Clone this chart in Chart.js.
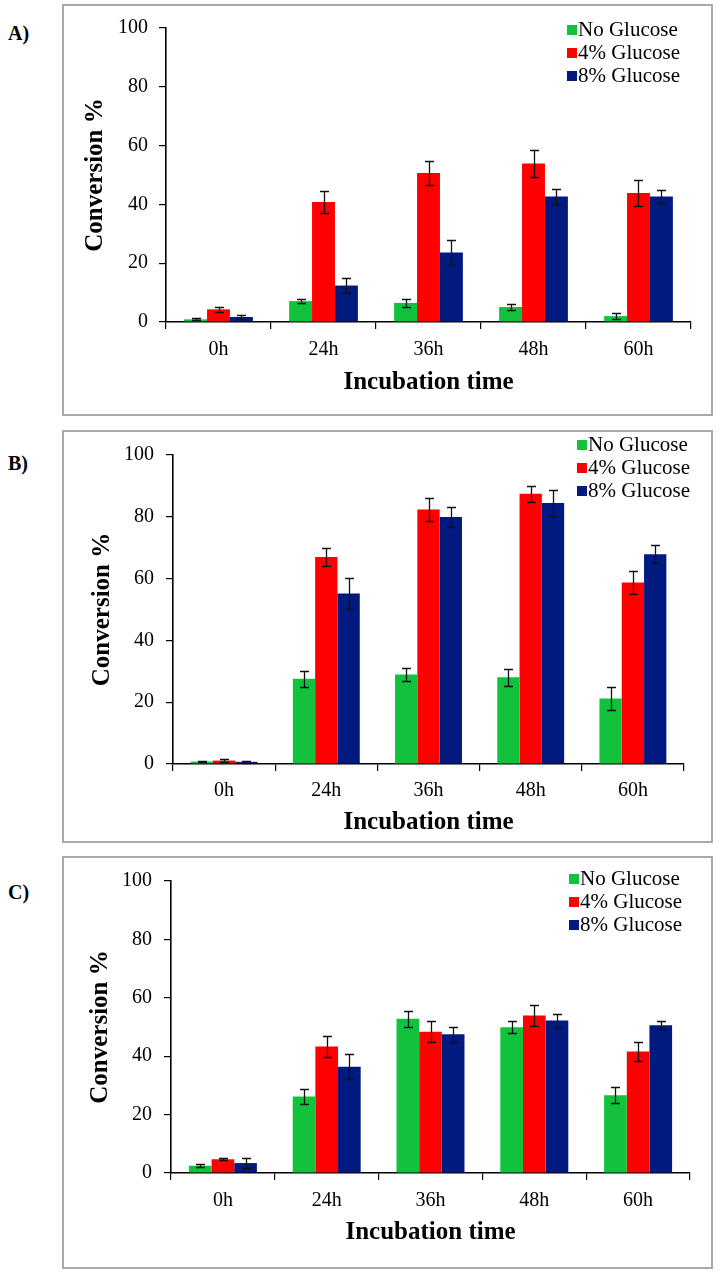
<!DOCTYPE html>
<html>
<head>
<meta charset="utf-8">
<script src="https://cdn.jsdelivr.net/npm/chart.js@4.4.0/dist/chart.umd.min.js"></script>
<style>
  body { margin: 0; background: #fff; width: 720px; height: 1275px; position: relative; overflow: hidden; font-family: "Liberation Serif", "Times New Roman", serif; }
  .frame { position: absolute; left: 62px; width: 651px; border: 2px solid #a9a9a9; box-sizing: border-box; }
  canvas { position: absolute; left: 0; }
  .tag { position: absolute; left: 8px; font-weight: bold; font-size: 20px; line-height: 20px; }
  .legend { position: absolute; font-size: 21px; line-height: 23px; color: #000; }
  .legend div { white-space: nowrap; }
  .legend span { display: inline-block; width: 10px; height: 10px; margin-right: 1px; vertical-align: 1px; }
</style>
</head>
<body>
<div class="frame" style="top:4px;height:412px"></div>
<div class="frame" style="top:430px;height:413px"></div>
<div class="frame" style="top:856px;height:413px"></div>
<div class="tag" style="top:23px">A)</div>
<div class="tag" style="top:453px">B)</div>
<div class="tag" style="top:882px">C)</div>
<canvas id="chartA" width="720" height="410" style="top:5px"></canvas>
<canvas id="chartB" width="720" height="411" style="top:431px"></canvas>
<canvas id="chartC" width="720" height="411" style="top:857px"></canvas>
<div class="legend" id="legendA" style="left:567px;top:18px"></div>
<div class="legend" id="legendB" style="left:577px;top:433px"></div>
<div class="legend" id="legendC" style="left:569px;top:867px"></div>

<script>
const timeLabels = ['0h', '24h', '36h', '48h', '60h'];
const seriesNames = ['No Glucose', '4% Glucose', '8% Glucose'];

// panel A
const aNoGlucose = [0.9, 7.1, 6.5, 5.1, 2.0];
const aGlucose4 = [4.3, 40.8, 50.7, 53.9, 43.9];
const aGlucose8 = [1.7, 12.4, 23.6, 42.7, 42.7];
const aErrNo = [0.3, 0.8, 1.3, 0.9, 1.1];
const aErr4 = [0.8, 3.7, 4.1, 4.7, 4.4];
const aErr8 = [0.6, 2.5, 4.3, 2.6, 2.2];

// panel B
const bNoGlucose = [0.8, 27.6, 29.0, 28.1, 21.2];
const bGlucose4 = [1.1, 67.0, 82.4, 87.5, 58.7];
const bGlucose8 = [0.7, 55.2, 79.9, 84.5, 67.9];
const bErrNo = [0.2, 2.6, 2.1, 2.7, 3.6];
const bErr4 = [0.4, 3.0, 3.7, 2.6, 3.6];
const bErr8 = [0.3, 5.1, 3.3, 4.3, 2.9];

// panel C
const cNoGlucose = [2.5, 26.2, 52.8, 49.9, 26.6];
const cGlucose4 = [4.7, 43.3, 48.4, 53.9, 41.6];
const cGlucose8 = [3.4, 36.4, 47.5, 52.2, 50.6];
const cErrNo = [0.6, 2.4, 2.7, 2.1, 2.7];
const cErr4 = [0.4, 3.6, 3.7, 3.5, 3.4];
const cErr8 = [1.8, 4.2, 2.6, 2.4, 1.4];

const barColors = ['#12c23c', '#ff0000', '#001a80'];
const serif = '"Liberation Serif", "Times New Roman", serif';

// draws the +/- error whiskers on top of each bar
const errorBars = {
  id: 'errorBars',
  afterDatasetsDraw(chart) {
    const ctx = chart.ctx;
    const yScale = chart.scales.y;
    ctx.save();
    ctx.strokeStyle = '#111';
    ctx.lineWidth = 1.3;
    chart.data.datasets.forEach((ds, i) => {
      chart.getDatasetMeta(i).data.forEach((bar, j) => {
        const v = ds.data[j];
        const e = ds.errors[j];
        const top = Math.round(yScale.getPixelForValue(v + e)) + 0.5;
        const bot = Math.round(yScale.getPixelForValue(Math.max(0, v - e))) + 0.5;
        const x = Math.round(bar.x) + 0.5;
        ctx.beginPath();
        ctx.moveTo(x, top); ctx.lineTo(x, bot);
        ctx.moveTo(x - 4.5, top); ctx.lineTo(x + 4.5, top);
        ctx.moveTo(x - 4.5, bot); ctx.lineTo(x + 4.5, bot);
        ctx.stroke();
      });
    });
    ctx.restore();
  }
};

function makeLegend(id) {
  const box = document.getElementById(id);
  seriesNames.forEach((name, i) => {
    const row = document.createElement('div');
    const sq = document.createElement('span');
    sq.style.background = barColors[i];
    row.appendChild(sq);
    row.appendChild(document.createTextNode(name));
    box.appendChild(row);
  });
}

function makePanel(id, values, errors, lay) {
  const ctx = document.getElementById(id).getContext('2d');
  return new Chart(ctx, {
    type: 'bar',
    data: {
      labels: timeLabels,
      datasets: seriesNames.map((name, i) => ({
        label: name,
        data: values[i],
        errors: errors[i],
        backgroundColor: barColors[i],
        borderWidth: 0,
        categoryPercentage: 0.655,
        barPercentage: 1.0
      }))
    },
    options: {
      responsive: false,
      animation: false,
      devicePixelRatio: 1,
      layout: { padding: { top: lay.padTop, left: 70, right: lay.padRight, bottom: 0 } },
      plugins: { legend: { display: false }, tooltip: { enabled: false } },
      scales: {
        x: {
          afterFit: (s) => { s.height = lay.xHeight; },
          grid: { drawOnChartArea: false, color: '#000', tickLength: 7, lineWidth: 1.2 },
          border: { color: '#000', width: 1.6 },
          ticks: { color: '#000', padding: lay.xTickPad, font: { family: serif, size: 20 } },
          title: {
            display: true, text: 'Incubation time', color: '#000',
            font: { family: serif, size: 25, weight: 'bold' },
            padding: { top: 0, bottom: lay.xTitlePad }
          }
        },
        y: {
          min: 0, max: 100,
          afterFit: (s) => { s.width = lay.yWidth; },
          grid: { drawOnChartArea: false, color: '#000', tickLength: 7, lineWidth: 1.2 },
          border: { color: '#000', width: 1.6 },
          ticks: { stepSize: 20, color: '#000', padding: lay.yTickPad, font: { family: serif, size: 20 } },
          title: {
            display: true, text: 'Conversion %', color: '#000',
            font: { family: serif, size: 25, weight: 'bold' },
            padding: { top: lay.yTitlePad, bottom: 0 }
          }
        }
      }
    },
    plugins: [errorBars]
  });
}

makePanel('chartA', [aNoGlucose, aGlucose4, aGlucose8], [aErrNo, aErr4, aErr8],
  { padTop: 20, padRight: 29, yWidth: 96, xHeight: 93, yTickPad: 11, yTitlePad: 11, xTickPad: 9, xTitlePad: 17 });
makePanel('chartB', [bNoGlucose, bGlucose4, bGlucose8], [bErrNo, bErr4, bErr8],
  { padTop: 20, padRight: 36, yWidth: 103, xHeight: 78, yTickPad: 12, yTitlePad: 18, xTickPad: 8, xTitlePad: 4 });
makePanel('chartC', [cNoGlucose, cGlucose4, cGlucose8], [cErrNo, cErr4, cErr8],
  { padTop: 21, padRight: 30, yWidth: 101, xHeight: 95, yTickPad: 12, yTitlePad: 16, xTickPad: 9, xTitlePad: 20 });

makeLegend('legendA');
makeLegend('legendB');
makeLegend('legendC');
</script>
</body>
</html>
